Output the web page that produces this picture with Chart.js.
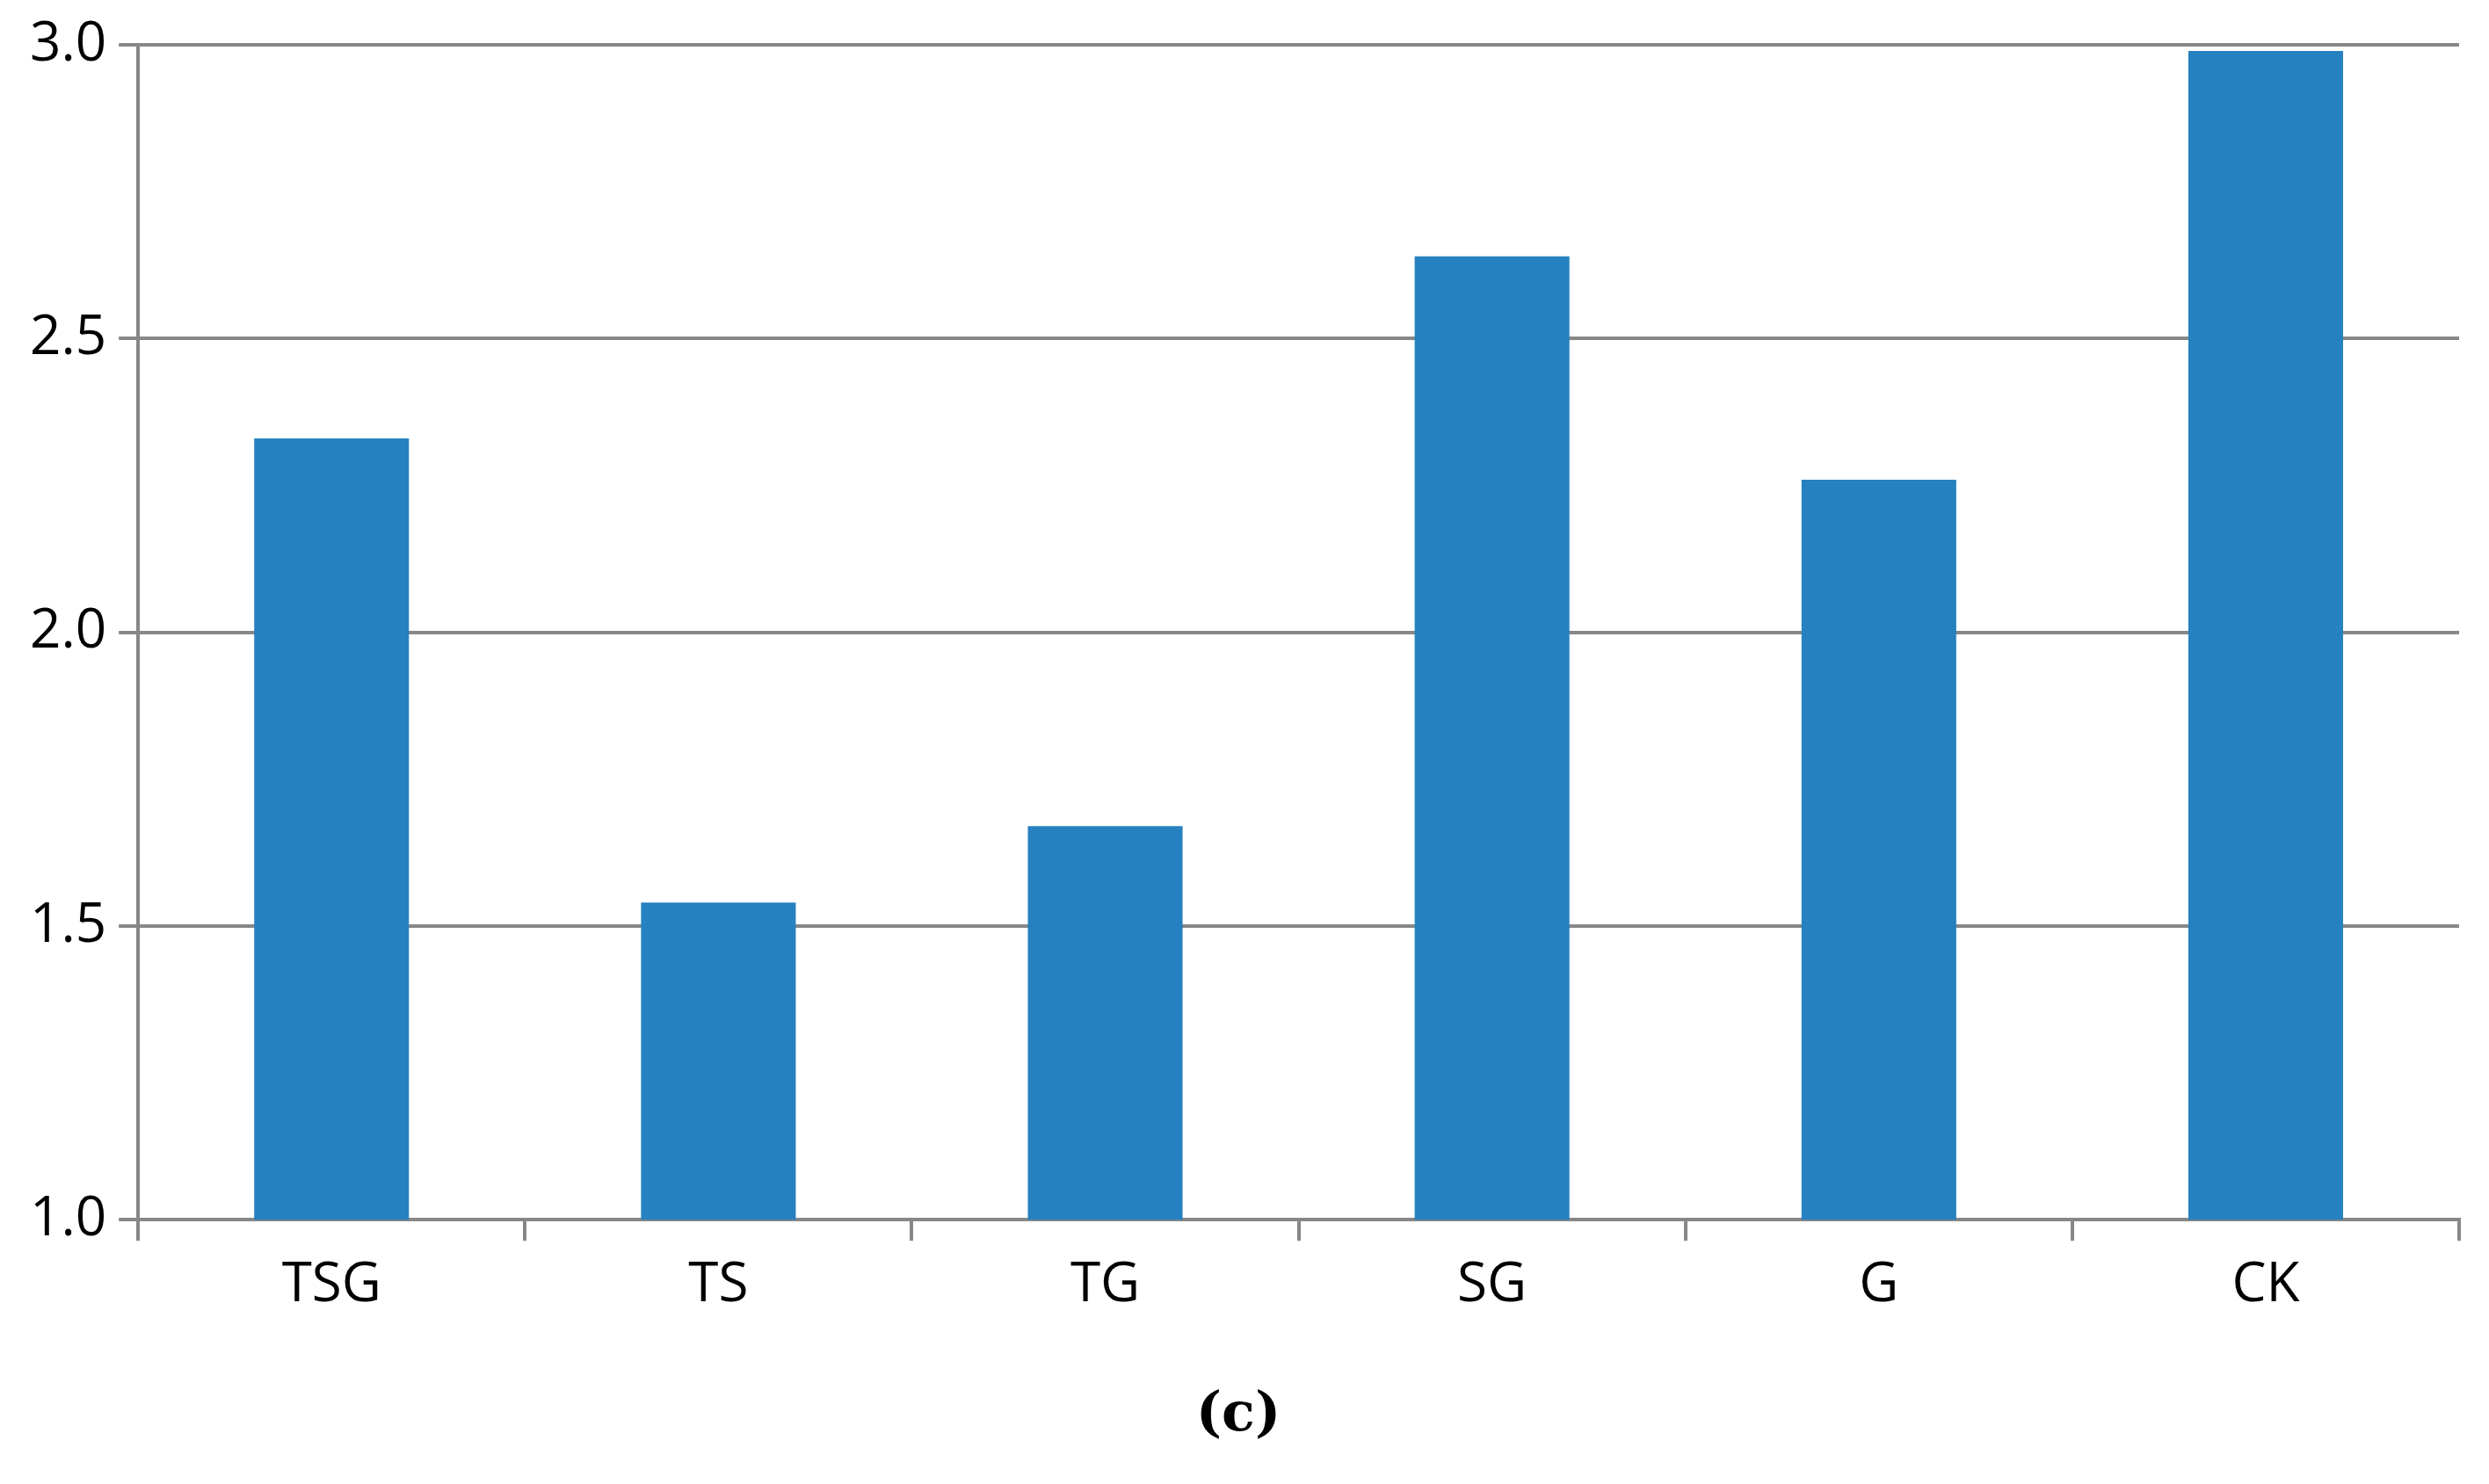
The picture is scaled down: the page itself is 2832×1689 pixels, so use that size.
<!DOCTYPE html>
<html lang="en">
<head>
<meta charset="UTF-8">
<title>Bar chart (c)</title>
<script src="https://cdn.jsdelivr.net/npm/chart.js"></script>
<style>
    body { margin: 0; background: #ffffff; }
    #wrap { width: 2832px; height: 1689px; }
</style>
</head>
<body>
<div id="wrap"><canvas id="chart"></canvas></div>
<script>
    var categories = ['TSG', 'TS', 'TG', 'SG', 'G', 'CK'];
    var values = [2.33, 1.54, 1.67, 2.64, 2.26, 2.99];
    var caption = '(c)';

    var gridColor = '#878787';

    new Chart(document.getElementById('chart'), {
        type: 'bar',
        data: {
            labels: categories,
            datasets: [{
                data: values,
                backgroundColor: '#2581c0',
                barPercentage: 0.4,
                categoryPercentage: 1.0
            }]
        },
        options: {
            responsive: true,
            maintainAspectRatio: false,
            animation: false,
            layout: { padding: { left: 20, right: 34, top: 50, bottom: 40 } },
            plugins: {
                legend: { display: false },
                tooltip: { enabled: false },
                title: {
                    display: true,
                    text: caption,
                    position: 'bottom',
                    color: '#000',
                    font: { family: 'DejaVu Serif', size: 62, weight: 'bold' },
                    padding: { top: 60, bottom: 0 }
                }
            },
            scales: {
                x: {
                    border: { color: gridColor, width: 4 },
                    grid: {
                        offset: true,
                        drawOnChartArea: false,
                        drawTicks: true,
                        tickLength: 24,
                        color: gridColor,
                        lineWidth: 4
                    },
                    ticks: {
                        color: '#000',
                        padding: 14,
                        font: { family: 'Open Sans', size: 62 }
                    }
                },
                y: {
                    min: 1,
                    max: 3,
                    border: { color: gridColor, width: 4 },
                    grid: {
                        color: gridColor,
                        lineWidth: 4,
                        tickLength: 22
                    },
                    ticks: {
                        stepSize: 0.5,
                        color: '#000',
                        padding: 14,
                        font: { family: 'Open Sans', size: 62 }
                    }
                }
            }
        }
    });
</script>
</body>
</html>
